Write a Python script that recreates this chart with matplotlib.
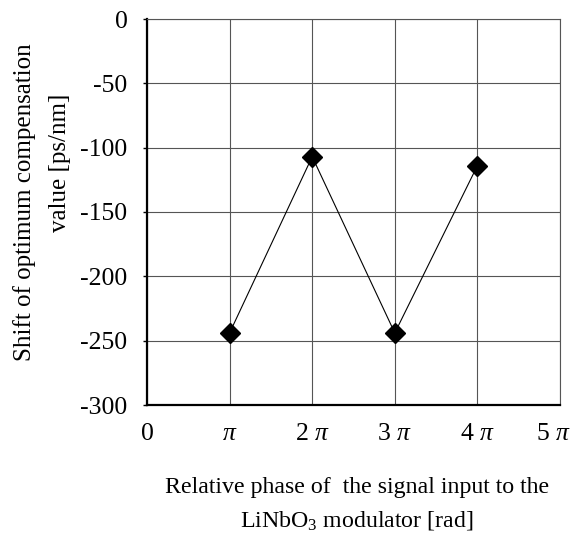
import matplotlib
matplotlib.use("Agg")
import matplotlib.pyplot as plt
import matplotlib.transforms as mtransforms
import numpy as np

plt.rcParams['font.family'] = ['Liberation Serif', 'DejaVu Serif']
plt.rcParams['mathtext.fontset'] = 'custom'
plt.rcParams['mathtext.rm'] = 'Liberation Serif'
plt.rcParams['mathtext.it'] = 'Liberation Serif:italic'

phase = [1, 2, 3, 4]  # multiples of pi
shift = [-244, -107, -244, -114]
xticks = [0, 1, 2, 3, 4, 5]
xticklabels = ['0', r'$\mathit{\pi}$', r'2 $\mathit{\pi}$', r'3 $\mathit{\pi}$',
               r'4 $\mathit{\pi}$', r'5 $\mathit{\pi}$']
yticks = [0, -50, -100, -150, -200, -250, -300]

fig = plt.figure(figsize=(5.75, 5.33), dpi=100)
ax = fig.add_axes([147/575, 1-405/533, (560-147)/575, (405-19)/533])

ax.plot(phase, shift, color='black', lw=0.8, marker='D', markersize=10,
        markerfacecolor='black', markeredgecolor='black', zorder=3)

ax.set_xlim(0, 5)
ax.set_ylim(-300, 0)
ax.set_xticks(xticks)
ax.set_xticklabels(xticklabels)
ax.set_yticks(yticks)
ax.set_yticklabels([str(v) for v in yticks])
ax.grid(True, color='#555555', lw=0.8)
ax.set_axisbelow(True)
for s in ['top', 'right']:
    ax.spines[s].set_color('#555555')
    ax.spines[s].set_linewidth(0.8)
for s in ['left', 'bottom']:
    ax.spines[s].set_linewidth(1.6)
ax.tick_params(axis='y', direction='out', length=3, width=1, labelsize=18.5, pad=11)
ax.tick_params(axis='x', length=0, labelsize=18.5, pad=13)

# nudge last x tick label left so it stays inside the figure
last = ax.get_xticklabels()[-1]
last.set_transform(last.get_transform() +
                   mtransforms.ScaledTranslation(-7/100, 0, fig.dpi_scale_trans))

fig.text(357/575, 1-487/533, 'Relative phase of  the signal input to the',
         ha='center', va='center', fontsize=17.2)
fig.text(357/575, 1-520/533, r'LiNbO$_{\mathregular{3}}$ modulator [rad]',
         ha='center', va='center', fontsize=17.2)
fig.text(25/575, 1-202/533, 'Shift of optimum compensation', rotation=90,
         ha='center', va='center', fontsize=18)
fig.text(60/575, 1-163/533, 'value [ps/nm]', rotation=90,
         ha='center', va='center', fontsize=18)

fig.savefig('out.png', dpi=100)
